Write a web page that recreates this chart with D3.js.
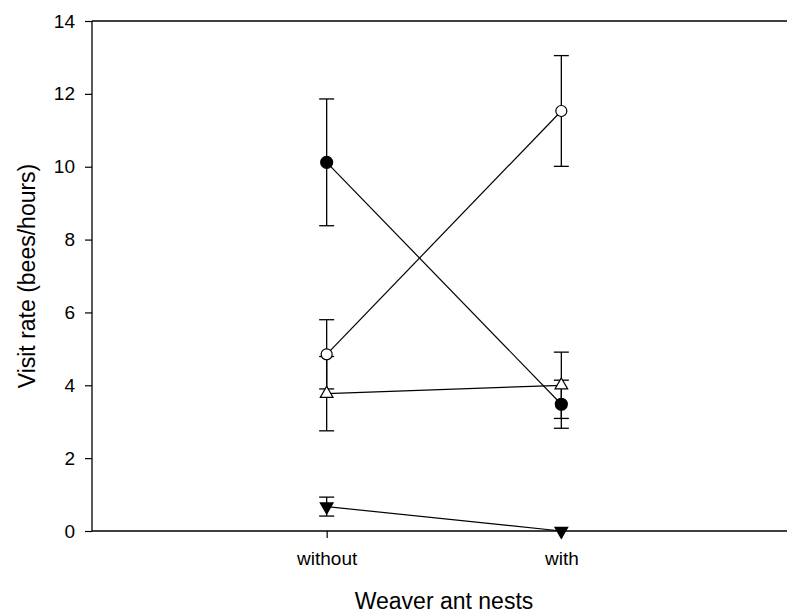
<!DOCTYPE html>
<html>
<head>
<meta charset="utf-8">
<script src="https://cdn.jsdelivr.net/npm/d3@7/dist/d3.min.js"></script>
<style>
  html, body { margin: 0; padding: 0; background: #fff; }
  svg { display: block; }
  text { font-family: Arial, "Liberation Sans", sans-serif; fill: #000; }
</style>
</head>
<body>
<svg id="chart" width="787" height="615"></svg>
<script>
// Categories along the x axis
const categories = ["without", "with"];

// Series means and standard errors (visits per hour)
const filledCircleMean = [10.12, 3.48];
const filledCircleErr  = [1.74, 0.66];
const openCircleMean   = [4.85, 11.53];
const openCircleErr    = [0.95, 1.52];
const openTriangleMean = [3.77, 4.00];
const openTriangleErr  = [1.02, 0.91];
const downTriangleMean = [0.67, 0.0];
const downTriangleErr  = [0.26, 0.0];

const yTicks = [0, 2, 4, 6, 8, 10, 12, 14];

const series = [
  { mean: filledCircleMean, err: filledCircleErr, shape: "circle", fill: "#000", size: 113 },
  { mean: openCircleMean, err: openCircleErr, shape: "circle", fill: "#fff", size: 95 },
  { mean: openTriangleMean, err: openTriangleErr, shape: "tri", fill: "#fff", size: 70 },
  { mean: downTriangleMean, err: downTriangleErr, shape: "tridown", fill: "#000", size: 70 }
];

const svg = d3.select("#chart");
const plotLeft = 92, plotRight = 796, plotTop = 21, plotBottom = 531;

// Category axis: slots 1 and 2 inside a 0..3 range
const x = d3.scaleLinear().domain([0, 3]).range([plotLeft, plotRight]);
const y = d3.scaleLinear().domain([0, 14]).range([plotBottom, plotTop]);

const tickFont = "19px";
const titleFont = "23px";

// Left axis
svg.append("g")
  .attr("transform", `translate(${plotLeft},0)`)
  .call(d3.axisLeft(y).tickValues(yTicks).tickSize(7).tickPadding(10).tickFormat(d3.format("d")))
  .call(g => g.select(".domain").attr("stroke-width", 1.3).attr("d", `M0,${plotTop}V${plotBottom}`))
  .call(g => g.selectAll(".tick line").attr("stroke-width", 1.2))
  .call(g => g.selectAll(".tick text").style("font-size", tickFont).style("font-family", "Arial, 'Liberation Sans', sans-serif"));

// Bottom axis with category ticks
const xAxis = d3.axisBottom(x)
  .tickValues([1, 2])
  .tickSize(7)
  .tickPadding(14)
  .tickFormat((d) => categories[d - 1]);
svg.append("g")
  .attr("transform", `translate(0,${plotBottom})`)
  .call(xAxis)
  .call(g => g.select(".domain").attr("stroke-width", 1.3).attr("d", `M${plotLeft},0H${plotRight}`))
  .call(g => g.selectAll(".tick line").attr("stroke-width", 1.2))
  .call(g => g.selectAll(".tick text").style("font-size", tickFont).style("font-family", "Arial, 'Liberation Sans', sans-serif"));

// Top frame line
svg.append("line")
  .attr("x1", plotLeft).attr("x2", plotRight)
  .attr("y1", y(14)).attr("y2", y(14))
  .attr("stroke", "#000").attr("stroke-width", 1.3);

const plot = svg.append("g");
const capHalf = 7.5;

// Error bars
series.forEach(s => {
  s.mean.forEach((m, i) => {
    const e = s.err[i];
    if (!e) return;
    const cx = x(i + 1);
    const g = plot.append("g").attr("stroke", "#000").attr("stroke-width", 1.3);
    g.append("line").attr("x1", cx).attr("x2", cx).attr("y1", y(m - e)).attr("y2", y(m + e));
    g.append("line").attr("x1", cx - capHalf).attr("x2", cx + capHalf).attr("y1", y(m + e)).attr("y2", y(m + e));
    g.append("line").attr("x1", cx - capHalf).attr("x2", cx + capHalf).attr("y1", y(m - e)).attr("y2", y(m - e));
  });
});

// Connecting lines
const line = d3.line().x((d, i) => x(i + 1)).y(d => y(d));
series.forEach(s => {
  plot.append("path")
    .attr("d", line(s.mean))
    .attr("fill", "none")
    .attr("stroke", "#000")
    .attr("stroke-width", 1.2);
});

// Markers
function symbolFor(s) {
  if (s.shape === "circle") return d3.symbol(d3.symbolCircle, s.size)();
  return d3.symbol(d3.symbolTriangle, s.size)();
}
series.forEach(s => {
  s.mean.forEach((m, i) => {
    let tr = `translate(${x(i + 1)},${y(m)})`;
    if (s.shape === "tridown") tr += " rotate(180)";
    plot.append("path")
      .attr("d", symbolFor(s))
      .attr("transform", tr)
      .attr("fill", s.fill)
      .attr("stroke", "#000")
      .attr("stroke-width", 1.2);
  });
});

// Axis titles
svg.append("text")
  .attr("x", (x(1) + x(2)) / 2)
  .attr("y", 609)
  .attr("text-anchor", "middle")
  .style("font-size", titleFont)
  .text("Weaver ant nests");

svg.append("text")
  .attr("transform", `translate(35,${(plotTop + plotBottom) / 2}) rotate(-90)`)
  .attr("text-anchor", "middle")
  .style("font-size", titleFont)
  .text("Visit rate (bees/hours)");
</script>
</body>
</html>
